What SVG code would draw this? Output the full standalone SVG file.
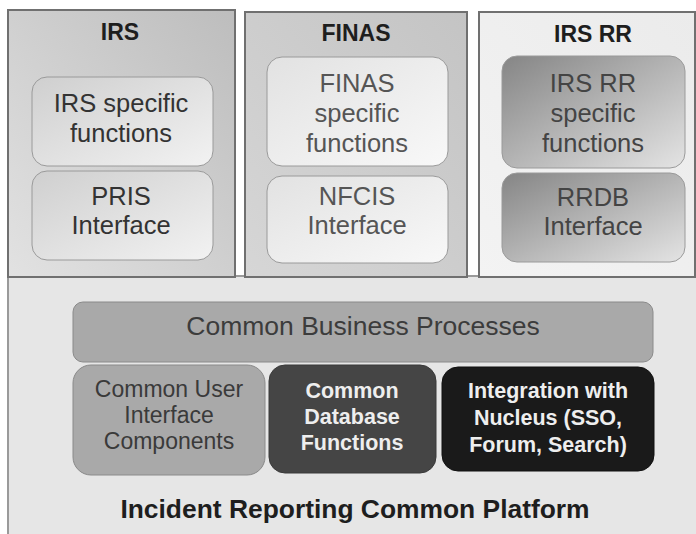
<svg xmlns="http://www.w3.org/2000/svg" width="696" height="534" viewBox="0 0 696 534">
<defs>
<linearGradient id="gIrs" x1="1" y1="0" x2="0" y2="1"><stop offset="0" stop-color="#bdbdbd"/><stop offset="1" stop-color="#e2e2e2"/></linearGradient>
<linearGradient id="gFinas" x1="1" y1="0" x2="0" y2="1"><stop offset="0" stop-color="#c4c4c4"/><stop offset="1" stop-color="#d6d6d6"/></linearGradient>
<linearGradient id="gRr" x1="1" y1="0" x2="0" y2="1"><stop offset="0" stop-color="#ebebeb"/><stop offset="1" stop-color="#f3f3f3"/></linearGradient>
<linearGradient id="gInIrs" x1="0" y1="0" x2="1" y2="1"><stop offset="0" stop-color="#cfcfcf"/><stop offset="1" stop-color="#f2f2f2"/></linearGradient>
<linearGradient id="gInFinas" x1="0" y1="0" x2="1" y2="1"><stop offset="0" stop-color="#e2e2e2"/><stop offset="1" stop-color="#f8f8f8"/></linearGradient>
<linearGradient id="gInRr" x1="0" y1="0" x2="1" y2="1"><stop offset="0" stop-color="#858585"/><stop offset="1" stop-color="#e4e4e4"/></linearGradient>
</defs>
<style>
text{font-family:"Liberation Sans",Arial,sans-serif;text-anchor:middle}
.outer{stroke:#707070;stroke-width:2}
.title{font-weight:bold;font-size:23px;fill:#1e1e1e}
.inner{stroke:#9a9a9a;stroke-width:1}
.t25{font-size:25.5px}
.t23{font-size:23px}
.tb{font-size:21.5px;font-weight:bold;fill:#eeeeee}
</style>
<rect width="696" height="534" fill="#ffffff"/>
<g id="platform">
<rect x="8" y="276" width="700" height="270" fill="#e6e6e6" stroke="#9a9a9a" stroke-width="2"/>
<text x="355" y="518" style="font-weight:bold;font-size:26.4px;fill:#1e1e1e">Incident Reporting Common Platform</text>
</g>
<g id="irs">
<rect class="outer" x="8" y="10" width="227" height="267" fill="url(#gIrs)"/>
<text class="title" x="120" y="40">IRS</text>
</g>
<g id="finas">
<rect class="outer" x="245" y="12" width="222" height="265" fill="url(#gFinas)"/>
<text class="title" x="356" y="41">FINAS</text>
</g>
<g id="irsrr">
<rect class="outer" x="479" y="12" width="216" height="265" fill="url(#gRr)"/>
<text class="title" x="593" y="42">IRS RR</text>
</g>
<g id="irs-specific">
<rect class="inner" x="32" y="77" width="181" height="89" rx="15" fill="url(#gInIrs)"/>
<text class="t25" x="121" y="112" fill="#333333">IRS specific</text>
<text class="t25" x="121" y="142" fill="#333333">functions</text>
</g>
<g id="pris">
<rect class="inner" x="32" y="171" width="181" height="89" rx="15" fill="url(#gInIrs)"/>
<text class="t25" x="121" y="205" fill="#333333">PRIS</text>
<text class="t25" x="121" y="234" fill="#333333">Interface</text>
</g>
<g id="finas-specific">
<rect class="inner" x="267" y="57" width="181" height="109" rx="15" fill="url(#gInFinas)" stroke="#bdbdbd"/>
<text class="t25" x="357" y="92" fill="#555555">FINAS</text>
<text class="t25" x="357" y="122" fill="#555555">specific</text>
<text class="t25" x="357" y="152" fill="#555555">functions</text>
</g>
<g id="nfcis">
<rect class="inner" x="267" y="176" width="181" height="87" rx="15" fill="url(#gInFinas)" stroke="#bdbdbd"/>
<text class="t25" x="357" y="205" fill="#555555">NFCIS</text>
<text class="t25" x="357" y="234" fill="#555555">Interface</text>
</g>
<g id="irsrr-specific">
<rect class="inner" x="502" y="56" width="183" height="112" rx="15" fill="url(#gInRr)" stroke="#8a8a8a"/>
<text class="t25" x="593" y="92" fill="#444444">IRS RR</text>
<text class="t25" x="593" y="122" fill="#444444">specific</text>
<text class="t25" x="593" y="152" fill="#444444">functions</text>
</g>
<g id="rrdb">
<rect class="inner" x="502" y="173" width="183" height="89" rx="15" fill="url(#gInRr)" stroke="#8a8a8a"/>
<text class="t25" x="593" y="206" fill="#444444">RRDB</text>
<text class="t25" x="593" y="235" fill="#444444">Interface</text>
</g>
<g id="common-business">
<rect x="73" y="302" width="580" height="60" rx="10" fill="#a9a9a9" stroke="#8a8a8a"/>
<text x="363" y="335" style="font-size:26.5px;fill:#3c3c3c">Common Business Processes</text>
</g>
<g id="common-ui">
<rect x="73" y="365" width="192" height="110" rx="18" fill="#a9a9a9" stroke="#8a8a8a"/>
<text class="t23" x="169" y="397" fill="#3a3a3a">Common User</text>
<text class="t23" x="169" y="423" fill="#3a3a3a">Interface</text>
<text class="t23" x="169" y="449" fill="#3a3a3a">Components</text>
</g>
<g id="common-db">
<rect x="269" y="365" width="167" height="108" rx="16" fill="#454545" stroke="#3a3a3a"/>
<text class="tb" x="352" y="398">Common</text>
<text class="tb" x="352" y="424">Database</text>
<text class="tb" x="352" y="450">Functions</text>
</g>
<g id="nucleus">
<rect x="442" y="367" width="212" height="104" rx="16" fill="#1a1a1a" stroke="#111"/>
<text class="tb" x="548" y="398">Integration with</text>
<text class="tb" x="548" y="425">Nucleus (SSO,</text>
<text class="tb" x="548" y="452">Forum, Search)</text>
</g>
<g id="connectors"></g>
</svg>
